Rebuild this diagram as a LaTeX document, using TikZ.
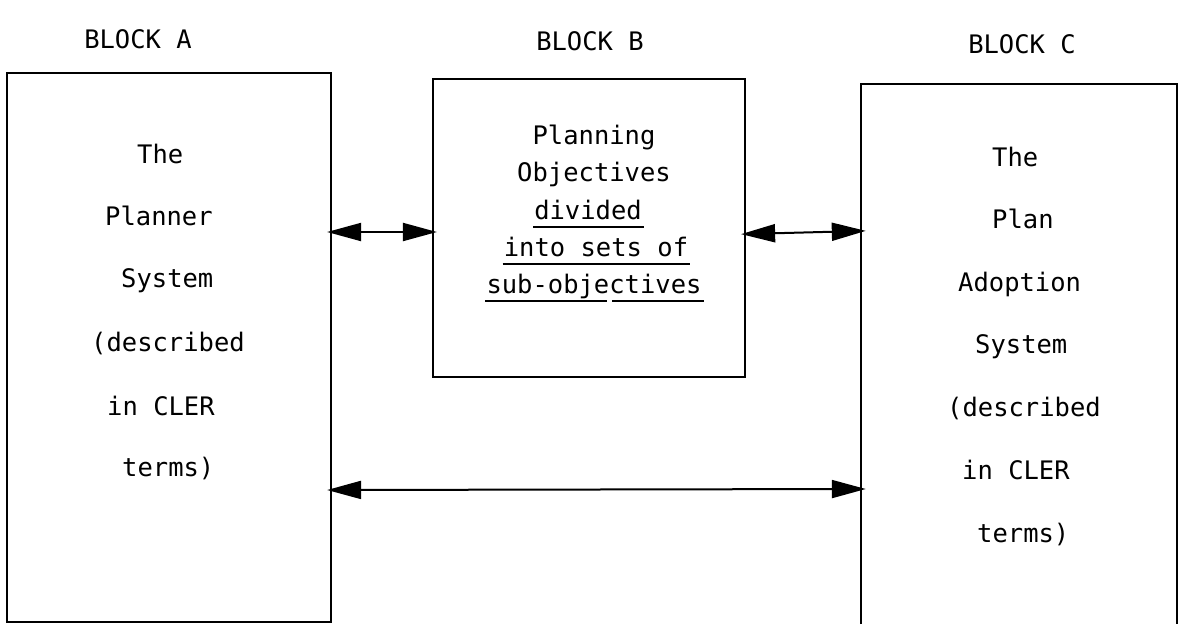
\documentclass[tikz,border=0pt]{standalone}
\usepackage{fontspec}
\setmonofont{DejaVu Sans Mono}
\usetikzlibrary{arrows.meta,calc}

\tikzset{
  blk/.style={draw, line width=2.2pt, inner sep=0pt},
  txt/.style={inner sep=0pt, anchor=base west, font=\ttfamily\fontsize{25.5}{30}\selectfont},
  ctxt/.style={inner sep=0pt, anchor=base, font=\ttfamily\fontsize{25.5}{30}\selectfont},
  link/.style={line width=2pt, {Triangle[length=34pt,width=18pt]}-{Triangle[length=34pt,width=18pt]}, shorten <=-5pt, shorten >=-5pt},
  uline/.style={line width=1.6pt}
}

\begin{document}
\begin{tikzpicture}[x=1pt,y=-1pt]
\useasboundingbox (0,0) rectangle (1183,624);

% block frames
\node[blk, minimum width=324pt, minimum height=549pt] (A) at (169,347.5) {};
\node[blk, minimum width=312pt, minimum height=298pt] (B) at (589,228) {};
\node[inner sep=0pt, minimum width=316pt, minimum height=540pt] (C) at (1019,354) {};
\draw[line width=2.2pt] (C.south west) -- (C.north west) -- (C.north east) -- (C.south east);

% block titles
\node[ctxt] (ta) at (138,48) {BLOCK A};
\node[ctxt] (tb) at (590,50) {BLOCK B};
\node[ctxt] (tc) at (1022,53) {BLOCK C};

% block A text
\node[txt] (a1) at (137,163) {The};
\node[txt] (a2) at (105,225) {Planner};
\node[txt] (a3) at (121,287) {System};
\node[txt] (a4) at (91,351) {(described};
\node[txt] (a5) at (107,415) {in CLER};
\node[txt] (a6) at (122,476) {terms)};

% block B text
\node[ctxt] (b1) at (594,144) {Planning};
\node[ctxt] (b2) at (594,181) {Objectives};
\node[ctxt] (b3) at (588,219) {divided};
\node[ctxt] (b4) at (596,256) {into sets of};
\node[ctxt] (b5) at (594,293) {sub-objectives};
\draw[uline] ([shift={(-1pt,-8pt)}]b3.base west) -- ([shift={(2pt,-8pt)}]b3.base east);
\draw[uline] ([shift={(-1pt,-8pt)}]b4.base west) -- ([shift={(2pt,-8pt)}]b4.base east);
\draw[uline] ([shift={(-1pt,-8pt)}]b5.base west) -- ([shift={(121pt,-8pt)}]b5.base west);
\draw[uline] ([shift={(126pt,-8pt)}]b5.base west) -- ([shift={(2pt,-8pt)}]b5.base east);

% block C text
\node[txt] (c1) at (992,166) {The};
\node[txt] (c2) at (992,228) {Plan};
\node[txt] (c3) at (958,291) {Adoption};
\node[txt] (c4) at (975,353) {System};
\node[txt] (c5) at (947,416) {(described};
\node[txt] (c6) at (962,479) {in CLER};
\node[txt] (c7) at (977,542) {terms)};

% connectors between blocks
\draw[link] (A.east |- 0,232) -- (B.west |- 0,232);
\draw[link] (B.east |- 0,234) -- (C.west |- 0,231);
\draw[link] (A.east |- 0,490) -- (C.west |- 0,489);
\end{tikzpicture}
\end{document}
